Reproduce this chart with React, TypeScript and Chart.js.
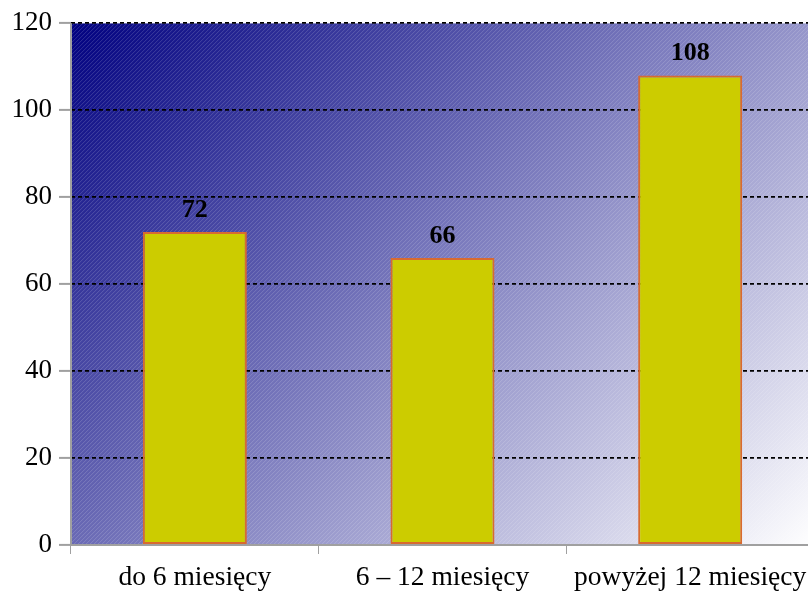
import React, { useEffect, useRef } from "react";
import { Chart, registerables } from "chart.js";

Chart.register(...registerables);

const categories = ["do 6 miesięcy", "6 – 12 miesięcy", "powyżej 12 miesięcy"];
const values = [72, 66, 108];
const yTicks = [0, 20, 40, 60, 80, 100, 120];

const FONT = "'Liberation Serif', 'Times New Roman', serif";
const AXIS_GRAY = "#a0a0a0";

const backgroundPlugin = {
  id: "bgHatch",
  beforeDraw(chart: any) {
    const { ctx, chartArea } = chart;
    const { left, top, right, bottom } = chartArea;
    const w = right - left;
    const h = bottom - top;
    const s = (w + h) / 2;
    ctx.save();
    ctx.beginPath();
    ctx.rect(left, top, w, h);
    ctx.clip();
    const g = ctx.createLinearGradient(left, top, left + s, top + s);
    g.addColorStop(0, "#000080");
    g.addColorStop(1, "#ffffff");
    ctx.fillStyle = g;
    ctx.fillRect(left, top, w, h);
    ctx.strokeStyle = "rgba(255,255,255,0.18)";
    ctx.lineWidth = 1;
    ctx.beginPath();
    const step = 4;
    for (let d = -h; d < w + h; d += step) {
      ctx.moveTo(left + d, bottom);
      ctx.lineTo(left + d + h, top);
    }
    ctx.stroke();
    ctx.restore();
  },
};

const axisLinePlugin = {
  id: "leftAxisLine",
  afterDatasetsDraw(chart: any) {
    const { ctx, chartArea } = chart;
    ctx.save();
    ctx.strokeStyle = AXIS_GRAY;
    ctx.lineWidth = 2;
    ctx.beginPath();
    ctx.moveTo(chartArea.left, chartArea.top);
    ctx.lineTo(chartArea.left, chartArea.bottom);
    ctx.stroke();
    ctx.restore();
  },
};

const labelPlugin = {
  id: "barLabels",
  afterDatasetsDraw(chart: any) {
    const { ctx } = chart;
    const meta = chart.getDatasetMeta(0);
    ctx.save();
    ctx.font = `bold 26px ${FONT}`;
    ctx.fillStyle = "#000000";
    ctx.textAlign = "center";
    ctx.textBaseline = "alphabetic";
    meta.data.forEach((bar: any, i: number) => {
      ctx.fillText(String(values[i]), bar.x, bar.y - 15);
    });
    ctx.restore();
  },
};

export default function App() {
  const ref = useRef<HTMLCanvasElement>(null);
  useEffect(() => {
    if (!ref.current) return;
    const chart = new Chart(ref.current, {
      type: "bar",
      data: {
        labels: categories,
        datasets: [
          {
            data: values,
            backgroundColor: "#CCCC00",
            borderColor: "#D86A30",
            borderWidth: 2,
            borderSkipped: false,
            categoryPercentage: 1,
            barPercentage: 0.42,
          },
        ],
      },
      options: {
        responsive: false,
        animation: false,
        devicePixelRatio: 1,
        layout: { padding: { top: 23, right: 3, left: 0, bottom: 0 } },
        plugins: { legend: { display: false }, tooltip: { enabled: false } },
        scales: {
          x: {
            offset: true,
            grid: {
              offset: true,
              drawOnChartArea: false,
              drawTicks: true,
              tickLength: 9,
              tickColor: AXIS_GRAY,
            },
            border: { display: true, color: AXIS_GRAY, width: 2 },
            ticks: {
              color: "#000000",
              font: { family: FONT, size: 27.5 },
              padding: 7,
              maxRotation: 0,
              autoSkip: false,
            },
            afterFit(scale: any) {
              scale.height = 46;
            },
          },
          y: {
            min: 0,
            max: 120,
            afterBuildTicks(scale: any) {
              scale.ticks = yTicks.map((v) => ({ value: v }));
            },
            grid: {
              color: (c: any) => (c.tick && c.tick.value === 0 ? "rgba(0,0,0,0)" : "#000000"),
              lineWidth: 1.8,
              tickBorderDash: [],
              tickColor: AXIS_GRAY,
              tickLength: 12,
              tickWidth: 2,
              drawTicks: true,
            },
            border: { display: false, dash: [4, 3] },
            ticks: {
              color: "#000000",
              font: { family: FONT, size: 27 },
              padding: 7,
            },
            afterFit(scale: any) {
              scale.width = 71;
            },
          },
        },
      },
      plugins: [backgroundPlugin, axisLinePlugin, labelPlugin],
    });
    return () => chart.destroy();
  }, []);
  return (
    <div style={{ position: "fixed", left: 0, top: 0, width: 808, height: 591, overflow: "hidden", background: "#ffffff" }}>
      <canvas ref={ref} width={817} height={591} style={{ position: "absolute", left: 0, top: 0 }} />
    </div>
  );
}
